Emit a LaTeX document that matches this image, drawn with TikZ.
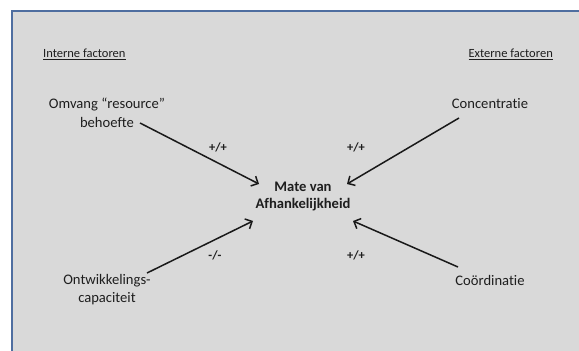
\documentclass[tikz,border=0pt]{standalone}
\usepackage{fontspec}
\setmainfont{Carlito}[Ligatures={NoCommon}]
\usetikzlibrary{arrows.meta}
\definecolor{panelfill}{RGB}{217,217,217}
\definecolor{panelline}{RGB}{79,110,160}
\definecolor{inktext}{RGB}{30,30,30}
\definecolor{inkline}{RGB}{25,25,25}
\tikzset{
  factor/.style={inner sep=0pt, align=center, text=inktext,
    font=\fontsize{14.6}{18.5}\selectfont},
  centre/.style={factor, font=\fontsize{14.6}{17.5}\selectfont\bfseries},
  heading/.style={inner sep=0pt, text=inktext,
    font=\fontsize{12.5}{15}\selectfont},
  sign/.style={inner sep=0pt, text=inktext,
    font=\fontsize{12.5}{15}\selectfont\bfseries},
  arr/.style={draw=inkline, line width=1.5pt,
    -{Straight Barb[length=5.5pt,width=11pt,line width=1.5pt]}}
}
\begin{document}
\begin{tikzpicture}[x=1pt,y=-1pt]
  \useasboundingbox (0,0) rectangle (579,351);
  % panel, running off the right and bottom edges
  \draw[fill=panelfill, draw=panelline, line width=2.2pt]
    (12.2,11) rectangle (620,380);

  % headings
  \node[heading, anchor=west] (intern) at (43,54) {\underline{Interne factoren}};
  \node[heading, anchor=east] (extern) at (553,54) {\underline{Externe factoren}};

  % factors
  \node[factor] (omvang) at (107,113) {Omvang “resource”\\behoefte};
  \node[factor] (conc) at (490,104) {Concentratie};
  \node[factor] (ontw) at (107,289.5) {Ontwikkelings-\\capaciteit};
  \node[factor] (coord) at (490,280) {Coördinatie};
  \node[centre] (mate) at (303,196.5) {Mate van\\Afhankelijkheid};

  % signs
  \node[sign] (s1) at (218,147) {+/+};
  \node[sign] (s2) at (356,147) {+/+};
  \node[sign] (s3) at (215,255) {-/-};
  \node[sign] (s4) at (356,255) {+/+};

  % connector ends
  \coordinate (omvangout) at (140,123);
  \coordinate (concout) at (459,118);
  \coordinate (ontwout) at (147,273);
  \coordinate (coordout) at (458,267);
  \coordinate (matenw) at (259,184);
  \coordinate (matene) at (347,184);
  \coordinate (matesw) at (253,221);
  \coordinate (matese) at (353,221);

  \draw[arr] (omvangout) -- (matenw);
  \draw[arr] (concout) -- (matene);
  \draw[arr] (ontwout) -- (matesw);
  \draw[arr] (coordout) -- (matese);
\end{tikzpicture}
\end{document}
